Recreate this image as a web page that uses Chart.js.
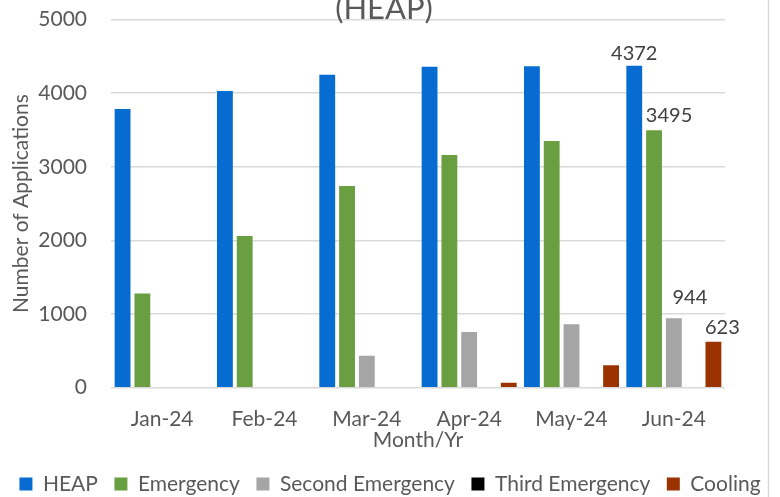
<!DOCTYPE html>
<html>
<head>
<meta charset="utf-8">
<script src="https://cdn.jsdelivr.net/npm/chart.js@4"></script>
<style>
  html, body { margin: 0; padding: 0; background: #fff; }
  #wrap { width: 780px; height: 497px; position: relative; }
</style>
</head>
<body>
<div id="wrap"><canvas id="chart"></canvas></div>
<script>
// monthly application counts
const months = ['Jan-24', 'Feb-24', 'Mar-24', 'Apr-24', 'May-24', 'Jun-24'];
const heap = [3785, 4030, 4250, 4360, 4365, 4372];
const emergency = [1280, 2060, 2740, 3160, 3350, 3495];
const secondEmergency = [0, 0, 435, 757, 860, 944];
const thirdEmergency = [0, 0, 0, 0, 0, 0];
const cooling = [0, 0, 0, 68, 304, 623];
const yTicks = [0, 1000, 2000, 3000, 4000, 5000];

const TEXT = '#595959';
const GRID = '#D9D9D9';
Chart.defaults.font.family = 'Lato';
Chart.defaults.font.size = 21;
Chart.defaults.color = TEXT;

// value labels on the most recent month only
const lastValueLabels = {
  id: 'lastValueLabels',
  afterDatasetsDraw(chart) {
    const ctx = chart.ctx;
    ctx.save();
    ctx.font = '20px Lato';
    ctx.fillStyle = '#404040';
    ctx.textAlign = 'center';
    ctx.textBaseline = 'alphabetic';
    chart.data.datasets.forEach((ds, i) => {
      const last = ds.data.length - 1;
      const v = ds.data[last];
      if (!v) return;
      const bar = chart.getDatasetMeta(i).data[last];
      const [dx, dy] = ds.labelShift || [0, 6];
      ctx.fillText(String(v), bar.x + dx, bar.y - dy);
    });
    ctx.restore();
  }
};

// clipped second title line and the right frame edge
const frame = {
  id: 'frame',
  afterDraw(chart) {
    const ctx = chart.ctx;
    ctx.save();
    ctx.strokeStyle = GRID;
    ctx.lineWidth = 1.5;
    ctx.beginPath();
    ctx.moveTo(768.5, 0);
    ctx.lineTo(768.5, chart.height);
    ctx.stroke();
    ctx.font = '31px Lato';
    ctx.fillStyle = TEXT;
    ctx.textAlign = 'center';
    ctx.textBaseline = 'alphabetic';
    ctx.fillText('(HEAP)', 384, 19);
    ctx.restore();
  }
};

new Chart(document.getElementById('chart'), {
  type: 'bar',
  data: {
    labels: months,
    datasets: [
      { label: 'HEAP', data: heap, backgroundColor: '#076CD2', labelShift: [0, 6] },
      { label: 'Emergency', data: emergency, backgroundColor: '#6A9F41', labelShift: [15, 8] },
      { label: 'Second Emergency', data: secondEmergency, backgroundColor: '#A5A5A5', labelShift: [16, 14] },
      { label: 'Third Emergency', data: thirdEmergency, backgroundColor: '#000000' },
      { label: 'Cooling', data: cooling, backgroundColor: '#9A3300', labelShift: [9, 8] }
    ]
  },
  options: {
    responsive: true,
    maintainAspectRatio: false,
    animation: false,
    datasets: {
      bar: { categoryPercentage: 0.967, barPercentage: 0.8, borderWidth: 0 }
    },
    layout: { autoPadding: false, padding: { left: 0, right: 0, top: 19.5, bottom: -7.5 } },
    scales: {
      x: {
        afterFit: s => { s.height = 69.3; },
        grid: { display: false, drawTicks: false },
        border: { display: false },
        ticks: { padding: 19.4, color: TEXT },
        title: { display: true, text: 'Month/Yr', color: TEXT, padding: { top: 0, bottom: 4 } }
      },
      y: {
        min: 0,
        max: 5000,
        afterBuildTicks: s => { s.ticks = yTicks.map(v => ({ value: v })); },
        // fixed width, and no extra vertical room for the tick padding
        afterFit: s => { s.width = 111; s.paddingTop = 0; s.paddingBottom = 0; },
        grid: { color: GRID, lineWidth: 1.6, drawTicks: false },
        border: { display: false },
        ticks: { padding: 24, color: TEXT, callback: v => String(v) },
        title: { display: true, text: 'Number of Applications', color: TEXT, padding: { top: 9, bottom: 0 } }
      },
      // blank right-hand margin inside the frame
      gutter: {
        position: 'right',
        afterFit: s => { s.width = 55; s.paddingTop = 0; s.paddingBottom = 0; },
        grid: { display: false, drawTicks: false },
        border: { display: false },
        ticks: { display: false }
      }
    },
    plugins: {
      legend: {
        position: 'bottom',
        labels: { boxWidth: 13, boxHeight: 13, padding: 16.5, color: TEXT, font: { size: 21 } }
      },
      tooltip: { enabled: false }
    }
  },
  plugins: [lastValueLabels, frame]
});
</script>
</body>
</html>
